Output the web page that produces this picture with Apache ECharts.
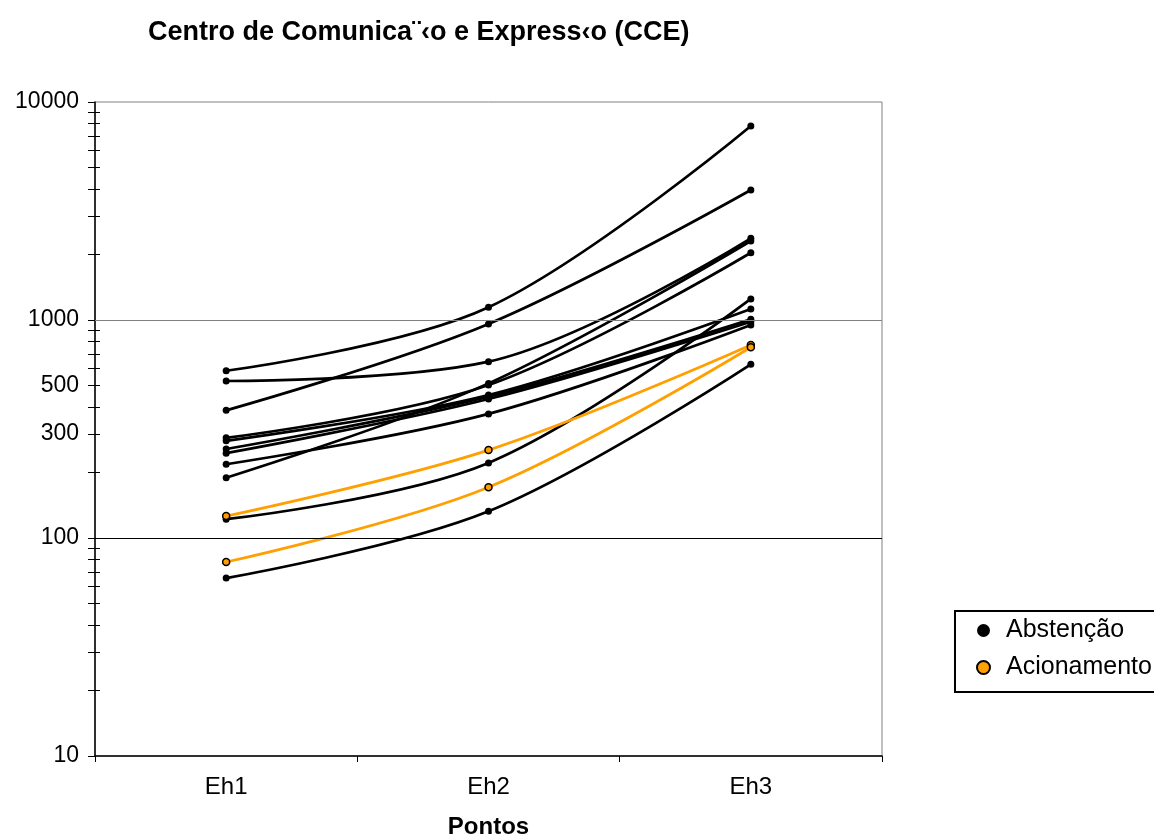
<!DOCTYPE html>
<html>
<head>
<meta charset="utf-8">
<script src="https://cdn.jsdelivr.net/npm/echarts@6/dist/echarts.min.js"></script>
<style>html,body{margin:0;padding:0;background:#fff}#c{width:1154px;height:834px}</style>
</head>
<body>
<div id="c"></div>
<script>
const categories = ['Eh1', 'Eh2', 'Eh3'];
const yLabelValues = [10, 100, 300, 500, 1000, 10000];
const yMajorTickValues = [10, 100, 1000, 10000];
const yMinorTickValues = [20, 30, 40, 50, 60, 70, 80, 90, 200, 300, 400, 500, 600, 700, 800, 900, 2000, 3000, 4000, 5000, 6000, 7000, 8000, 9000];
const gridLineValues = [100, 1000];

const abstencao1 = [585, 1144, 7762];
const abstencao2 = [385, 959, 3948];
const abstencao3 = [525, 644, 2370];
const abstencao4 = [189, 512, 2304];
const abstencao5 = [288, 503, 2035];
const abstencao6 = [122, 221, 1249];
const abstencao7 = [279, 453, 1123];
const abstencao8 = [256, 445, 1007];
const abstencao9 = [245, 434, 982];
const abstencao10 = [218, 371, 949];
const abstencao11 = [65.5, 132.6, 626];
const acionamento1 = [126, 253, 768];
const acionamento2 = [77.6, 171, 750];

const abstencaoSeries = [abstencao1, abstencao2, abstencao3, abstencao4, abstencao5, abstencao6,
  abstencao7, abstencao8, abstencao9, abstencao10, abstencao11];
const acionamentoSeries = [acionamento1, acionamento2];

const FONT = '"Liberation Sans", Arial, sans-serif';
const ORANGE = '#FF9F00';

const series = [];
abstencaoSeries.forEach((d) => {
  series.push({
    name: 'Abstenção', type: 'line', data: d, smooth: 0.35,
    symbol: 'circle', symbolSize: 7, z: 3,
    lineStyle: { color: '#000', width: 2.7 },
    itemStyle: { color: '#000' }
  });
});
acionamentoSeries.forEach((d) => {
  series.push({
    name: 'Acionamento', type: 'line', data: d, smooth: 0.35,
    symbol: 'circle', symbolSize: 7, z: 4,
    lineStyle: { color: ORANGE, width: 2.7 },
    itemStyle: { color: ORANGE, borderColor: '#000', borderWidth: 1.5 }
  });
});
series[0].markLine = {
  silent: true, symbol: 'none', label: { show: false },
  data: gridLineValues.map((v, i) => ({ yAxis: v, lineStyle: { color: i === 0 ? '#000' : '#808080', width: 1.2, type: 'solid' } }))
};

const chart = echarts.init(document.getElementById('c'));
chart.setOption({
  animation: false,
  textStyle: { fontFamily: FONT },
  title: {
    text: 'Centro de Comunica¨‹o e Express‹o (CCE)',
    left: 143, top: 14,
    textStyle: { fontFamily: FONT, fontWeight: 'bold', fontSize: 27, color: '#000' }
  },
  legend: {
    data: ['Abstenção', 'Acionamento'],
    orient: 'vertical',
    left: 955, top: 611,
    padding: [7, 40, 12, 21],
    itemGap: 12,
    icon: 'circle', itemWidth: 35, itemHeight: 13,
    borderColor: '#000', borderWidth: 2,
    textStyle: { fontFamily: FONT, fontSize: 25, color: '#000' }
  },
  grid: {
    left: 95, top: 102, right: 272, bottom: 78,
    outerBoundsMode: 'none', containLabel: false,
    show: true, borderColor: '#808080', borderWidth: 1, backgroundColor: 'transparent'
  },
  xAxis: {
    type: 'category', data: categories, boundaryGap: true,
    name: 'Pontos', nameLocation: 'middle', nameGap: 59,
    nameTextStyle: { fontFamily: FONT, fontWeight: 'bold', fontSize: 24, color: '#000' },
    axisLine: { lineStyle: { color: '#000', width: 1.5 } },
    axisTick: { show: true, alignWithLabel: false, length: 6, lineStyle: { color: '#000' } },
    axisLabel: { fontFamily: FONT, fontSize: 24, color: '#000', margin: 19 },
    splitLine: { show: false }
  },
  yAxis: [{
    type: 'log', logBase: 10, min: 10, max: 10000,
    axisLine: { show: true, lineStyle: { color: '#000', width: 1.5 } },
    axisTick: { show: true, length: 7, inside: false, customValues: yMajorTickValues.concat(yMinorTickValues), lineStyle: { color: '#000' } },
    axisLabel: { fontFamily: FONT, fontSize: 23, color: '#000', margin: 16, customValues: yLabelValues,
      formatter: (v) => String(Math.round(v)) },
    splitLine: { show: false }
  }, {
    type: 'log', logBase: 10, min: 10, max: 10000, position: 'left', offset: 0,
    axisLine: { show: false },
    axisTick: { show: true, length: 5, inside: true, customValues: yMinorTickValues, lineStyle: { color: '#000' } },
    axisLabel: { show: false },
    splitLine: { show: false }
  }],
  series: series
});
</script>
</body>
</html>
